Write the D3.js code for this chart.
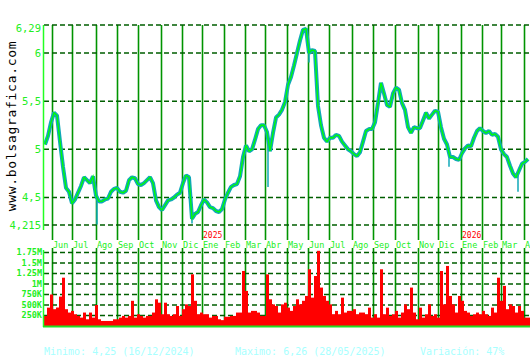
<!DOCTYPE html>
<html>
<head>
<meta charset="utf-8">
<script src="https://cdn.jsdelivr.net/npm/d3@7"></script>
<style>
  body { margin: 0; background: #fff; }
  text { font-family: "DejaVu Sans Mono", monospace; }
</style>
</head>
<body>
<svg id="chart" width="530" height="360"></svg>
<script>
// one sample every 3 trading days, first sample at day 0
let step = 3;

let close = [
  5.05, 5.14, 5.28, 5.38, 5.35, 5.08, 4.82, 4.60, 4.56, 4.44,
  4.48, 4.55, 4.62, 4.71, 4.68, 4.65, 4.72, 4.52, 4.46, 4.46,
  4.48, 4.49, 4.56, 4.59, 4.60, 4.56, 4.55, 4.57, 4.68, 4.71,
  4.70, 4.64, 4.63, 4.65, 4.68, 4.71, 4.65, 4.47, 4.40, 4.37,
  4.42, 4.47, 4.48, 4.50, 4.53, 4.55, 4.65, 4.73, 4.71, 4.28,
  4.33, 4.35, 4.42, 4.48, 4.45, 4.40, 4.39, 4.36, 4.35, 4.38,
  4.48, 4.55, 4.61, 4.63, 4.64, 4.72, 4.92, 5.04, 4.98, 5.00,
  5.10, 5.21, 5.25, 5.25, 5.18, 4.98, 5.17, 5.33, 5.36, 5.41,
  5.49, 5.67, 5.75, 5.87, 6.00, 6.13, 6.24, 6.25, 6.00, 6.03,
  6.02, 5.45, 5.25, 5.12, 5.08, 5.12, 5.12, 5.15, 5.14, 5.08,
  5.04, 5.00, 4.98, 4.95, 4.93, 4.97, 5.08, 5.19, 5.21, 5.21,
  5.28, 5.48, 5.69, 5.58, 5.46, 5.44, 5.58, 5.64, 5.62, 5.48,
  5.41, 5.23, 5.17, 5.23, 5.22, 5.22, 5.30, 5.38, 5.32, 5.36,
  5.40, 5.39, 5.23, 5.11, 5.05, 4.92, 4.92, 4.90, 4.89, 4.96,
  5.01, 5.04, 5.03, 5.12, 5.19, 5.22, 5.19, 5.17, 5.19, 5.15,
  5.16, 5.13, 5.00, 4.95, 4.92, 4.83, 4.75, 4.71, 4.78, 4.85,
  4.87, 4.90
];

// volume in thousands, same sampling
let volume = [
  238, 437, 750, 400, 440, 700, 1150, 400, 320, 360,
  280, 240, 200, 320, 160, 320, 200, 500, 160, 120,
  120, 120, 120, 160, 160, 200, 240, 200, 240, 600,
  200, 280, 240, 200, 240, 240, 320, 635, 555, 280,
  555, 280, 240, 280, 476, 240, 400, 515, 476, 1230,
  600, 280, 320, 280, 280, 200, 240, 240, 160, 140,
  220, 220, 240, 240, 320, 320, 1310, 835, 320, 360,
  360, 320, 240, 240, 1230, 635, 515, 476, 320, 515,
  555, 437, 360, 476, 635, 515, 600, 715, 1350, 675,
  1190, 1790, 915, 715, 600, 515, 280, 360, 280, 675,
  320, 360, 360, 400, 280, 320, 320, 280, 437, 200,
  280, 200, 1350, 280, 437, 240, 280, 360, 200, 320,
  515, 400, 915, 320, 160, 437, 200, 280, 515, 240,
  280, 200, 1310, 515, 1430, 715, 515, 320, 715, 600,
  360, 320, 240, 280, 320, 280, 360, 280, 240, 437,
  320, 1150, 600, 955, 400, 515, 476, 320, 476, 360,
  200, 200
];

// a few long wicks of the daily range
let wickDays = [52, 147, 223, 264, 404, 473];
let wickVals = [4.22, 4.23, 4.61, 5.90, 4.82, 4.56];

let monthNames = ["Jun", "Jul", "Ago", "Sep", "Oct", "Nov", "Dic", "Ene", "Feb", "Mar", "Abr", "May",
                  "Jun", "Jul", "Ago", "Sep", "Oct", "Nov", "Dic", "Ene", "Feb", "Mar", "Abr"];
let monthDays = [7, 27, 51, 72, 93, 116, 137, 157, 179, 200, 220, 242,
                 263, 284, 307, 328, 350, 373, 393, 416, 437, 456, 479];
let yearNames = ["2025", "2026"];
let yearDays = [157, 416];

let priceTicks = [6.29, 6, 5.5, 5, 4.5, 4.215];
let priceLabels = ["6,29", "6", "5,5", "5", "4,5", "4,215"];
let volTicks = [250, 500, 750, 1000, 1250, 1500, 1750];
let volLabels = ["250K", "500K", "750K", "1M", "1.25M", "1.5M", "1.75M"];

let footer = ["Minimo: 4,25 (16/12/2024)", "Maximo: 6,26 (28/05/2025)", "Variación: 47%"];

let gridGreen = "#009400";
let dashGreen = "#005e00";
let labelGreen = "#22ee22";

let svg = d3.select("#chart");

let xScale = d3.scaleLinear()
    .domain([0, 483])
    .range([45, 528]);

let yScale = d3.scaleLinear()
    .domain([4.215, 6.29])
    .range([225, 25]);

let vScale = d3.scaleLinear()
    .domain([0, 1750])
    .range([326, 252.5]);

let days = close.map(function (d, i) { return i * step });

// vertical month lines, price panel and volume panel
svg.append("g")
    .selectAll("line")
    .data(monthDays)
    .enter()
    .append("line")
    .attr("x1", function (d) { return Math.round(xScale(d)) + 0.5 })
    .attr("x2", function (d) { return Math.round(xScale(d)) + 0.5 })
    .attr("y1", 25)
    .attr("y2", 240)
    .attr("stroke", gridGreen)
    .attr("stroke-width", 1.6)

svg.append("g")
    .selectAll("line")
    .data(monthDays)
    .enter()
    .append("line")
    .attr("x1", function (d) { return Math.round(xScale(d)) + 0.5 })
    .attr("x2", function (d) { return Math.round(xScale(d)) + 0.5 })
    .attr("y1", 248)
    .attr("y2", 326)
    .attr("stroke", gridGreen)
    .attr("stroke-width", 1.6)

// dashed horizontal lines
svg.append("g")
    .selectAll("line")
    .data(priceTicks)
    .enter()
    .append("line")
    .attr("x1", 44)
    .attr("x2", 530)
    .attr("y1", function (d) { return yScale(d) })
    .attr("y2", function (d) { return yScale(d) })
    .attr("stroke", dashGreen)
    .attr("stroke-width", 1.5)
    .attr("stroke-dasharray", "5,3")

svg.append("g")
    .selectAll("line")
    .data(volTicks)
    .enter()
    .append("line")
    .attr("x1", 44)
    .attr("x2", 530)
    .attr("y1", function (d) { return vScale(d) })
    .attr("y2", function (d) { return vScale(d) })
    .attr("stroke", dashGreen)
    .attr("stroke-width", 1.5)
    .attr("stroke-dasharray", "5,3")

// price: cyan range band under the green close line
let line = d3.line()
    .x(function (d, i) { return xScale(days[i]) })
    .y(function (d) { return yScale(d) });

svg.append("g")
    .selectAll("line")
    .data(wickDays)
    .enter()
    .append("line")
    .attr("x1", function (d) { return xScale(d) })
    .attr("x2", function (d) { return xScale(d) })
    .attr("y1", function (d, i) { return yScale(close[Math.round(d / step)]) })
    .attr("y2", function (d, i) { return yScale(wickVals[i]) })
    .attr("stroke", "#10a8b8")
    .attr("stroke-width", 1.5)

svg.append("path")
    .datum(close)
    .attr("d", line)
    .attr("fill", "none")
    .attr("stroke", "#10a8b8")
    .attr("stroke-width", 4)
    .attr("stroke-linejoin", "bevel")

svg.append("path")
    .datum(close)
    .attr("d", line)
    .attr("fill", "none")
    .attr("stroke", "#00ff00")
    .attr("stroke-width", 1.3)

// volume bars
svg.append("g")
    .selectAll("rect")
    .data(volume)
    .enter()
    .append("rect")
    .attr("x", function (d, i) { return xScale(days[i]) - 1 })
    .attr("width", step)
    .attr("y", function (d) { return vScale(d) })
    .attr("height", function (d) { return 326 - vScale(d) })
    .attr("fill", "#ff0000")

// axes lines
svg.append("line")
    .attr("x1", 43.5).attr("x2", 43.5)
    .attr("y1", 25).attr("y2", 230)
    .attr("stroke", "#22ff22")
    .attr("stroke-width", 1.5)

svg.append("line")
    .attr("x1", 43.5).attr("x2", 43.5)
    .attr("y1", 250).attr("y2", 327)
    .attr("stroke", "#22ff22")
    .attr("stroke-width", 1.5)

svg.append("line")
    .attr("x1", 43).attr("x2", 530)
    .attr("y1", 326.5).attr("y2", 326.5)
    .attr("stroke", "#22dd22")
    .attr("stroke-width", 2)

// tick labels
svg.append("g")
    .selectAll("text")
    .data(priceTicks)
    .enter()
    .append("text")
    .attr("x", 41)
    .attr("y", function (d) { return Math.max(yScale(d), 28.5) })
    .attr("dy", "0.35em")
    .attr("text-anchor", "end")
    .attr("font-size", "10.5px")
    .attr("fill", labelGreen)
    .text(function (d, i) { return priceLabels[i] })

svg.append("g")
    .selectAll("text")
    .data(volTicks)
    .enter()
    .append("text")
    .attr("x", 42)
    .attr("y", function (d) { return vScale(d) })
    .attr("dy", "0.35em")
    .attr("text-anchor", "end")
    .attr("font-size", "8.5px")
    .attr("font-weight", "bold")
    .attr("fill", labelGreen)
    .text(function (d, i) { return volLabels[i] })

svg.append("g")
    .selectAll("text")
    .data(monthDays)
    .enter()
    .append("text")
    .attr("x", function (d) { return Math.round(xScale(d)) + 1 })
    .attr("y", 247.5)
    .attr("font-size", "8.5px")
    .attr("fill", labelGreen)
    .text(function (d, i) { return monthNames[i] })

svg.append("g")
    .selectAll("text")
    .data(yearDays)
    .enter()
    .append("text")
    .attr("x", function (d) { return Math.round(xScale(d)) + 1 })
    .attr("y", 238)
    .attr("font-size", "8px")
    .attr("fill", "#ff0000")
    .text(function (d, i) { return yearNames[i] })

// watermark
svg.append("text")
    .attr("transform", "translate(16,126)rotate(-90)")
    .attr("text-anchor", "middle")
    .attr("font-size", "13px")
    .attr("letter-spacing", "0.7px")
    .attr("fill", "#000")
    .text("www.bolsagrafica.com")

// footer
svg.append("g")
    .selectAll("text")
    .data(footer)
    .enter()
    .append("text")
    .attr("x", function (d, i) { return [44, 235, 420][i] })
    .attr("y", 355)
    .attr("font-size", "10px")
    .attr("fill", "#a8ffff")
    .text(function (d) { return d })
</script>
</body>
</html>
